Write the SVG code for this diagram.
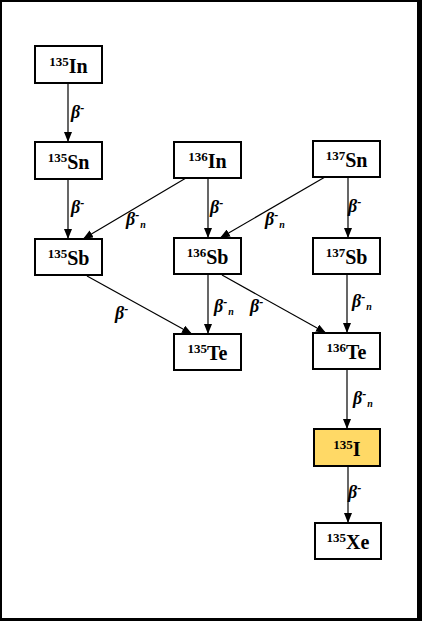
<svg xmlns="http://www.w3.org/2000/svg" width="422" height="621" viewBox="0 0 422 621">
<style>
.box{fill:#fff;stroke:#000;stroke-width:2}
.hl{fill:#FFD966}
.nt{font-family:"Liberation Serif","Times New Roman",serif;font-weight:bold;font-size:20px;text-anchor:middle;fill:#000}
.ns{font-size:13px}
.edge{stroke:#000;stroke-width:1.2;fill:none;marker-end:url(#ah)}
.lbl{font-family:"Liberation Serif","Times New Roman",serif;font-weight:bold;font-style:italic;font-size:18px;fill:#000}
.sp{font-size:12px}
.sb{font-size:10px}
</style>
<defs>
<marker id="ah" markerUnits="userSpaceOnUse" markerWidth="10" markerHeight="8" viewBox="0 0 10 8" refX="10" refY="4" orient="auto">
<path d="M0,0 L10,4 L0,8 Z" fill="#000"/>
</marker>
</defs>
<rect x="0" y="0" width="422" height="621" fill="#fff"/>
<g id="frame" fill="#000">
<rect x="0" y="0" width="2" height="621"/>
<rect x="0" y="0" width="422" height="2"/>
<rect x="417" y="0" width="5" height="621"/>
<rect x="0" y="618" width="422" height="3"/>
</g>
<g id="connectors">
<line class="edge" x1="68" y1="83" x2="68" y2="142"/>
<line class="edge" x1="68" y1="179" x2="68" y2="239"/>
<line class="edge" x1="186" y1="178" x2="83" y2="239"/>
<line class="edge" x1="208" y1="178" x2="208" y2="238"/>
<line class="edge" x1="325" y1="177" x2="220" y2="238"/>
<line class="edge" x1="348" y1="177" x2="348" y2="238"/>
<line class="edge" x1="87" y1="276" x2="192" y2="334"/>
<line class="edge" x1="208" y1="274" x2="208" y2="334"/>
<line class="edge" x1="222" y1="275" x2="326" y2="333"/>
<line class="edge" x1="347" y1="274" x2="347" y2="333"/>
<line class="edge" x1="347" y1="369" x2="347" y2="429"/>
<line class="edge" x1="348" y1="466" x2="348" y2="523"/>
<text class="lbl" x="71" y="118">β<tspan class="sp" dy="-6">-</tspan></text>
<text class="lbl" x="71" y="213">β<tspan class="sp" dy="-6">-</tspan></text>
<text class="lbl" x="126" y="225">β<tspan class="sp" dy="-6">-</tspan><tspan class="sb" dy="9" dx="1">n</tspan></text>
<text class="lbl" x="210" y="213">β<tspan class="sp" dy="-6">-</tspan></text>
<text class="lbl" x="265" y="225">β<tspan class="sp" dy="-6">-</tspan><tspan class="sb" dy="9" dx="1">n</tspan></text>
<text class="lbl" x="348" y="212">β<tspan class="sp" dy="-6">-</tspan></text>
<text class="lbl" x="115" y="319">β<tspan class="sp" dy="-6">-</tspan></text>
<text class="lbl" x="214" y="312">β<tspan class="sp" dy="-6">-</tspan><tspan class="sb" dy="9" dx="1">n</tspan></text>
<text class="lbl" x="250" y="312">β<tspan class="sp" dy="-6">-</tspan></text>
<text class="lbl" x="352" y="307">β<tspan class="sp" dy="-6">-</tspan><tspan class="sb" dy="9" dx="1">n</tspan></text>
<text class="lbl" x="353" y="404">β<tspan class="sp" dy="-6">-</tspan><tspan class="sb" dy="9" dx="1">n</tspan></text>
<text class="lbl" x="348" y="498">β<tspan class="sp" dy="-6">-</tspan></text>
</g>
<g id="In135"><rect class="box" x="35" y="46" width="67" height="37"/><text class="nt" x="68.5" y="73"><tspan class="ns" dy="-7">135</tspan><tspan dy="7">In</tspan></text></g>
<g id="Sn135"><rect class="box" x="35" y="142" width="67" height="37"/><text class="nt" x="68.5" y="169"><tspan class="ns" dy="-7">135</tspan><tspan dy="7">Sn</tspan></text></g>
<g id="In136"><rect class="box" x="174" y="142" width="67" height="36"/><text class="nt" x="207.5" y="168"><tspan class="ns" dy="-7">136</tspan><tspan dy="7">In</tspan></text></g>
<g id="Sn137"><rect class="box" x="313" y="141" width="67" height="36"/><text class="nt" x="346.5" y="167"><tspan class="ns" dy="-7">137</tspan><tspan dy="7">Sn</tspan></text></g>
<g id="Sb135"><rect class="box" x="35" y="239" width="67" height="36"/><text class="nt" x="68.5" y="265"><tspan class="ns" dy="-7">135</tspan><tspan dy="7">Sb</tspan></text></g>
<g id="Sb136"><rect class="box" x="174" y="238" width="67" height="36"/><text class="nt" x="207.5" y="264"><tspan class="ns" dy="-7">136</tspan><tspan dy="7">Sb</tspan></text></g>
<g id="Sb137"><rect class="box" x="313" y="238" width="67" height="36"/><text class="nt" x="346.5" y="264"><tspan class="ns" dy="-7">137</tspan><tspan dy="7">Sb</tspan></text></g>
<g id="Te135"><rect class="box" x="174" y="334" width="67" height="36"/><text class="nt" x="207.5" y="360"><tspan class="ns" dy="-7">135</tspan><tspan dy="7">Te</tspan></text></g>
<g id="Te136"><rect class="box" x="313" y="333" width="67" height="36"/><text class="nt" x="346.5" y="359"><tspan class="ns" dy="-7">136</tspan><tspan dy="7">Te</tspan></text></g>
<g id="I135"><rect class="box hl" x="314" y="429" width="66" height="37"/><text class="nt" x="347" y="456"><tspan class="ns" dy="-7">135</tspan><tspan dy="7">I</tspan></text></g>
<g id="Xe135"><rect class="box" x="315" y="523" width="66" height="36"/><text class="nt" x="348" y="549"><tspan class="ns" dy="-7">135</tspan><tspan dy="7">Xe</tspan></text></g>
</svg>
